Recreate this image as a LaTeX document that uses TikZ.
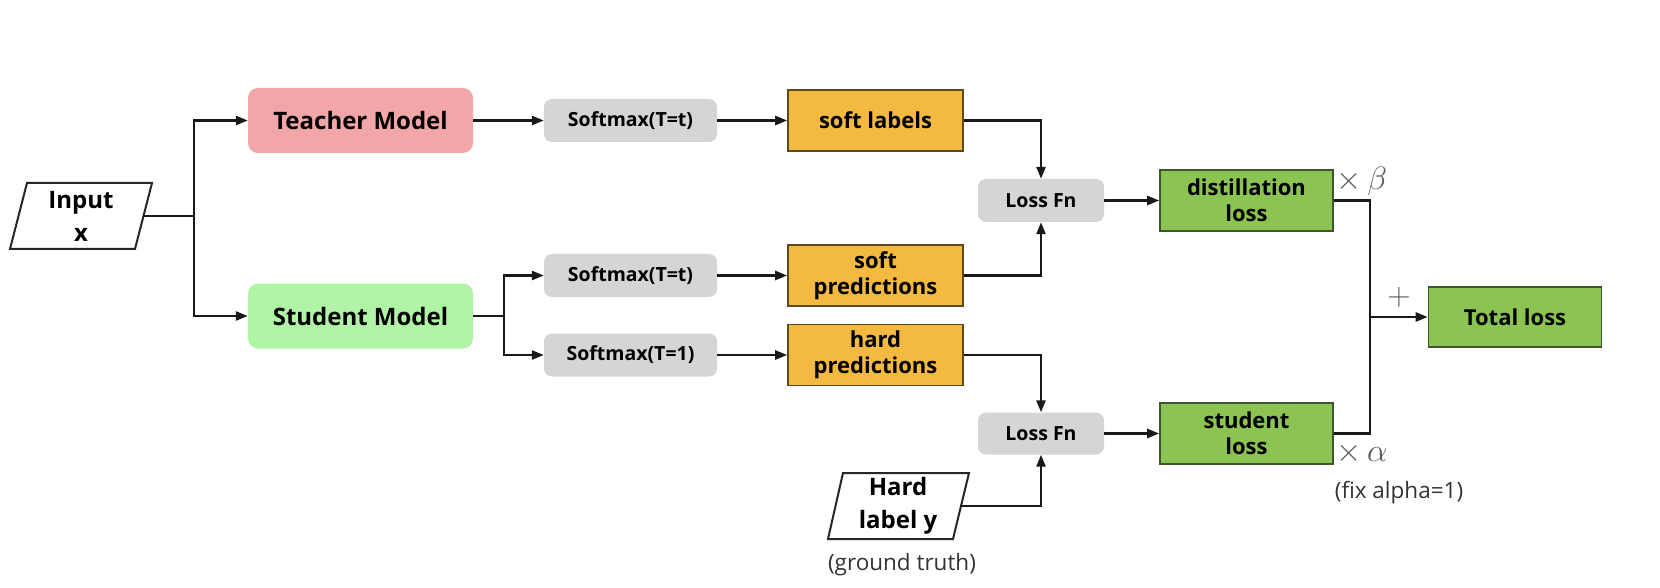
\documentclass[tikz,border=0pt]{standalone}
\usepackage{fontspec}
\setmainfont{Open Sans}
\usetikzlibrary{arrows.meta}
\definecolor{teach}{HTML}{F2A6A7}
\definecolor{stud}{HTML}{B0F5A6}
\definecolor{gbox}{HTML}{D5D5D5}
\definecolor{obox}{HTML}{F4B940}
\definecolor{oline}{HTML}{5C4A1E}
\definecolor{grn}{HTML}{8CC453}
\definecolor{gline}{HTML}{3E5530}
\definecolor{lab}{HTML}{5A5A5A}
\begin{document}
\begin{tikzpicture}[x=1pt,y=-1pt,
  conn/.style={line width=2.4pt, draw=black!90},
  arr/.style={conn, -{Triangle[length=12pt,width=9pt]}},
  model/.style={rounded corners=10pt, minimum width=225pt, minimum height=65pt, inner sep=0pt,
    font=\fontsize{24}{30}\selectfont\bfseries},
  graybox/.style={fill=gbox, rounded corners=8pt, minimum width=173pt, minimum height=43pt, inner sep=0pt,
    font=\fontsize{19.5}{23}\selectfont\bfseries},
  orbox/.style={fill=obox, draw=oline, line width=1.6pt, minimum width=175pt, minimum height=61pt,
    align=center, inner sep=0pt, font=\fontsize{22}{26}\selectfont\bfseries},
  grbox/.style={fill=grn, draw=gline, line width=1.6pt, minimum width=173pt, minimum height=61pt,
    align=center, inner sep=0pt, font=\fontsize{22}{26}\selectfont\bfseries},
  para/.style={draw=black!85, line width=2pt, fill=white},
  ptext/.style={align=center, inner sep=0pt, minimum width=124pt, minimum height=66pt,
    font=\fontsize{24}{33}\selectfont\bfseries},
  mlab/.style={text=lab, inner sep=0pt, scale=1.3, font=\fontsize{24}{28}\selectfont},
  note/.style={text=black!80, inner sep=0pt, font=\fontsize{22.5}{26}\selectfont}
]
\useasboundingbox (0,0) rectangle (1660,588);
\fill[white] (0,0) rectangle (1660,588);

% input parallelograms
\coordinate (inc) at (81,216);
\draw[para] ([shift={(-54,-33)}]inc) -- ([shift={(71,-33)}]inc) -- ([shift={(54,33)}]inc) -- ([shift={(-71,33)}]inc) -- cycle;
\node[ptext] (input) at (inc) {Input\\x};

\coordinate (hlc) at (898,506);
\draw[para] ([shift={(-55,-33)}]hlc) -- ([shift={(71,-33)}]hlc) -- ([shift={(55,33)}]hlc) -- ([shift={(-70,33)}]hlc) -- cycle;
\node[ptext] (hl) at (hlc) {Hard\\label y};

% models
\node[model, fill=teach] (teacher) at (360.5,120.5) {Teacher Model};
\node[model, fill=stud] (student) at (360.5,316) {Student Model};

% softmax
\node[graybox] (sm1) at (630.5,120.5) {Softmax(T=t)};
\node[graybox] (sm2) at (630.5,275.5) {Softmax(T=t)};
\node[graybox] (sm3) at (630.5,355) {Softmax(T=1)};

% outputs
\node[orbox] (sl) at (875.5,120.5) {soft labels};
\node[orbox] (sp) at (875.5,275.5) {soft\\predictions};
\node[orbox] (hp) at (875.5,355) {hard\\predictions};

% loss functions
\node[graybox, minimum width=126pt, minimum height=43pt] (lf1) at (1041,200.5) {Loss Fn};
\node[graybox, minimum width=126pt, minimum height=42pt] (lf2) at (1041,433.5) {Loss Fn};

% losses
\node[grbox] (dl) at (1246.5,200.5) {distillation\\loss};
\node[grbox] (stl) at (1246.5,433.5) {student\\loss};
\node[grbox, minimum height=60pt] (tl) at (1515,317) {Total loss};

% labels
\node[mlab] (beta) at (1362,181) {$\times\,\beta$};
\node[mlab] (alpha) at (1362,453) {$\times\,\alpha$};
\node[mlab] (plus) at (1399,297) {$+$};
\node[note] (fix) at (1399,493) {(fix alpha=1)};
\node[note] (gt) at (902,565) {(ground truth)};

% connectors
\coordinate (j1) at (194,216);
\draw[conn] (input.east) -- (j1);
\draw[arr] (j1) |- (teacher.west);
\draw[arr] (j1) |- (student.west);

\draw[arr] (teacher.east) -- (sm1.west);
\draw[arr] (sm1.east) -- (sl.west);

\coordinate (j2) at (504,316);
\draw[conn] (student.east) -- (j2);
\draw[arr] (j2) |- (sm2.west);
\draw[arr] (j2) |- (sm3.west);
\draw[arr] (sm2.east) -- (sp.west);
\draw[arr] (sm3.east) -- (hp.west);

\draw[arr] (sl.east) -| (lf1.north);
\draw[arr] (sp.east) -| (lf1.south);
\draw[arr] (hp.east) -| (lf2.north);
\draw[arr] (hl.east) -| (lf2.south);

\draw[arr] (lf1.east) -- (dl.west);
\draw[arr] (lf2.east) -- (stl.west);

\coordinate (j3) at (1370,317);
\draw[conn] (dl.east) -| (j3);
\draw[conn] (stl.east) -| (j3);
\draw[arr] (j3) -- (tl.west);
\end{tikzpicture}
\end{document}
